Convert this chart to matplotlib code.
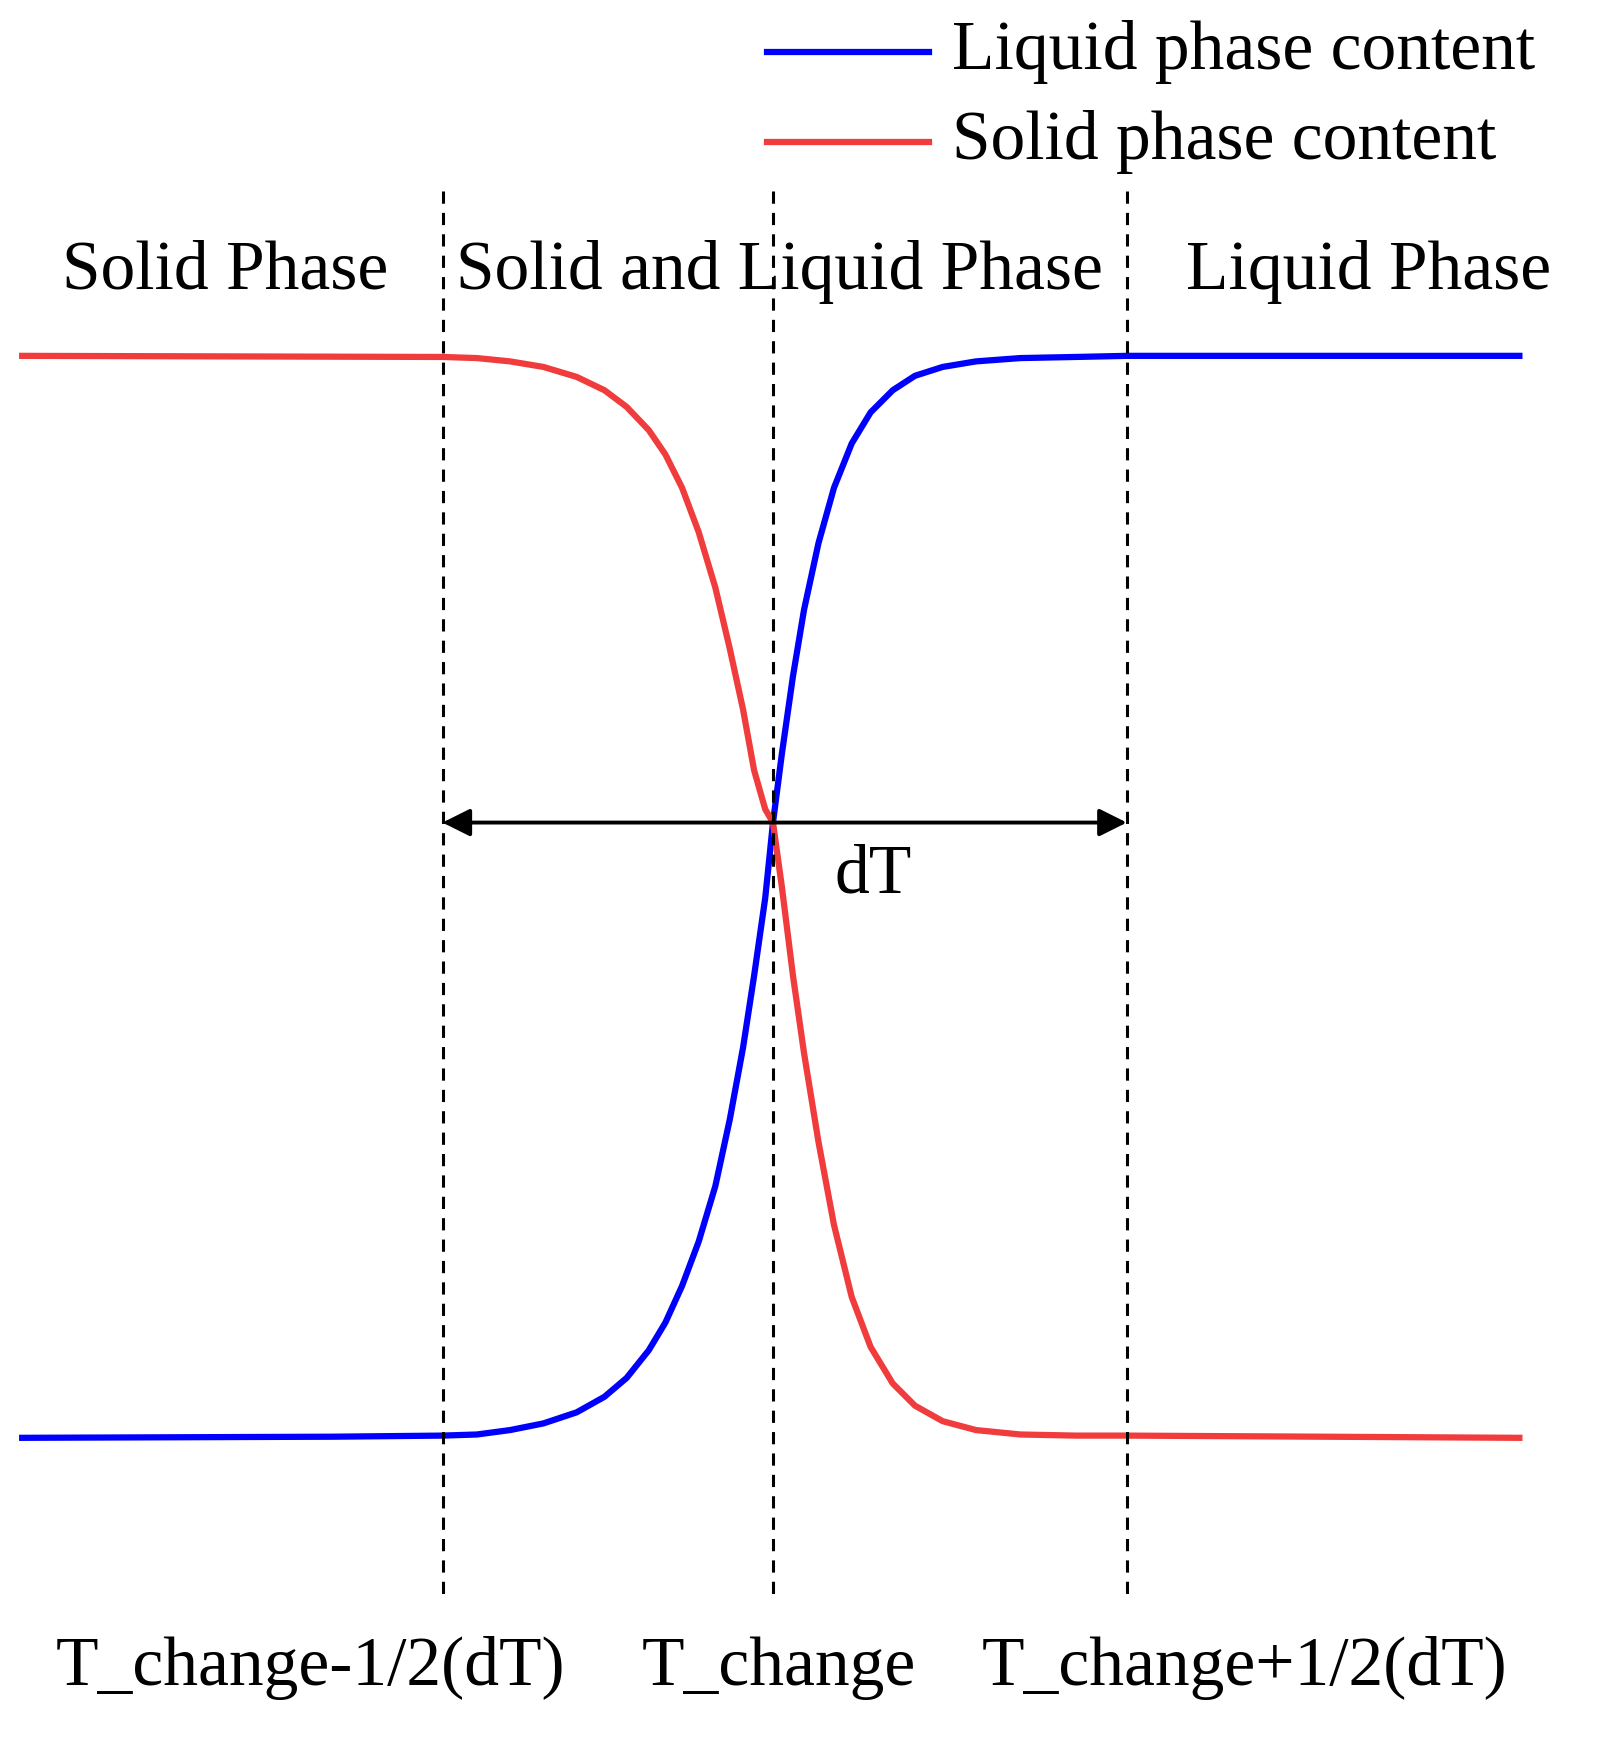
import matplotlib.pyplot as plt

# coordinates (picture units, y grows downward)
liquid_x = [20, 300, 399, 430, 460, 490, 520, 545, 565, 585, 600, 615, 630, 645, 658, 670, 680, 690, 697,
            705, 715, 725, 738, 752, 768, 785, 805, 825, 850, 880, 920, 970, 1016, 1370]
liquid_y = [1297, 1296, 1295, 1294, 1290, 1284, 1274, 1260, 1243, 1218, 1193, 1160, 1120, 1070, 1010, 945, 880, 810, 742,
            680, 610, 550, 490, 440, 400, 372, 352, 339, 331, 326, 323, 322, 321, 321]
solid_x = [20, 399, 430, 460, 490, 520, 545, 565, 585, 600, 615, 630, 645, 658, 670, 680, 690, 697,
           705, 715, 725, 738, 752, 768, 785, 805, 825, 850, 880, 920, 970, 1016, 1370]
solid_y = [321, 322, 323, 326, 331, 340, 352, 367, 388, 410, 440, 480, 530, 585, 640, 695, 730, 742,
           800, 880, 950, 1030, 1105, 1170, 1215, 1248, 1268, 1282, 1290, 1294, 1295, 1295, 1297]

vlines_x = [399, 697, 1016]
bottom_labels = ['T_change-1/2(dT)', 'T_change', 'T_change+1/2(dT)']
bottom_pos = [280, 702, 1122]

plt.rcParams['font.family'] = ['Liberation Serif', 'DejaVu Serif']
fs = 50

fig = plt.figure(figsize=(15.97, 17.46), dpi=100)
ax = fig.add_axes([0, 0, 1, 1])
ax.set_xlim(0, 1440)
ax.set_ylim(1575, 0)
ax.axis('off')

ax.plot(liquid_x, liquid_y, color='#0000ff', lw=4.5, solid_joinstyle='round')
ax.plot(solid_x, solid_y, color='#f03c3c', lw=4.5, solid_joinstyle='round')

for x in vlines_x:
    ax.plot([x, x], [172, 1445], color='black', lw=2.2, ls=(0, (4, 3)))

ax.annotate('', xy=(vlines_x[0], 742), xytext=(vlines_x[2], 742),
            arrowprops=dict(arrowstyle='<|-|>', color='black', lw=2.8, mutation_scale=42,
                            shrinkA=0, shrinkB=0))
ax.text(787, 790, 'dT', fontsize=fs, ha='center', va='center')

ax.text(203, 245, 'Solid Phase', fontsize=fs, ha='center', va='center')
ax.text(703, 245, 'Solid and Liquid Phase', fontsize=fs, ha='center', va='center')
ax.text(1234, 245, 'Liquid Phase', fontsize=fs, ha='center', va='center')

for lab, x in zip(bottom_labels, bottom_pos):
    ax.text(x, 1505, lab, fontsize=fs, ha='center', va='center')

# legend
ax.plot([692, 838], [47, 47], color='#0000ff', lw=4.5)
ax.plot([692, 838], [128, 128], color='#f03c3c', lw=4.5)
ax.text(858, 47, 'Liquid phase content', fontsize=fs, va='center')
ax.text(858, 128, 'Solid phase content', fontsize=fs, va='center')

fig.savefig('out.png', dpi=100)
